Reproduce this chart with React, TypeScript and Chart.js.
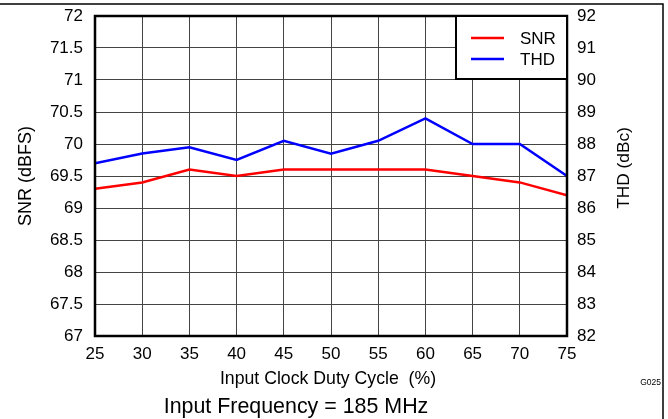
import React, { useEffect, useRef } from "react";
import { Chart, registerables } from "chart.js";

Chart.register(...registerables);

const dutyCycle = [25, 30, 35, 40, 45, 50, 55, 60, 65, 70, 75];
const snrValues = [69.3, 69.4, 69.6, 69.5, 69.6, 69.6, 69.6, 69.6, 69.5, 69.4, 69.2];
const thdValues = [87.4, 87.7, 87.9, 87.5, 88.1, 87.7, 88.1, 88.8, 88.0, 88.0, 87.0];
const seriesNames = ["SNR", "THD"];
const seriesColors = ["#ff0000", "#0000ff"];
const xTitle = "Input Clock Duty Cycle  (%)";
const yTitle = "SNR (dBFS)";
const y1Title = "THD (dBc)";
const footer = "Input Frequency = 185 MHz";
const figId = "G025";

const FONT = "'Liberation Sans', Arial, sans-serif";

const overlay = {
  id: "overlay",
  afterDatasetsDraw(chart: any) {
    const ctx = chart.ctx;
    const a = chart.chartArea;
    ctx.save();
    // plot border
    ctx.strokeStyle = "#000";
    ctx.lineWidth = 2.5;
    ctx.strokeRect(a.left, a.top, a.right - a.left, a.bottom - a.top);

    // legend box
    const lx = 456, ly = a.top, lw = a.right - 456, lh = 79 - a.top;
    ctx.fillStyle = "#fff";
    ctx.fillRect(lx, ly, lw, lh);
    ctx.lineWidth = 2;
    ctx.strokeRect(lx, ly, lw, lh);
    ctx.font = `17px ${FONT}`;
    ctx.textBaseline = "middle";
    ctx.textAlign = "left";
    chart.data.datasets.forEach((ds: any, i: number) => {
      const yy = 38 + i * 21;
      ctx.strokeStyle = ds.borderColor;
      ctx.lineWidth = 2.5;
      ctx.beginPath();
      ctx.moveTo(471, yy);
      ctx.lineTo(504, yy);
      ctx.stroke();
      ctx.fillStyle = "#000";
      ctx.fillText(ds.label, 520, yy + 1);
    });
    ctx.restore();
  },
  afterDraw(chart: any) {
    const ctx = chart.ctx;
    const a = chart.chartArea;
    ctx.save();
    ctx.fillStyle = "#000";
    ctx.textAlign = "center";
    ctx.textBaseline = "middle";
    ctx.font = `17.7px ${FONT}`;
    ctx.fillText(xTitle, (a.left + a.right) / 2 - 3, 379);
    ctx.font = `21.4px ${FONT}`;
    ctx.fillText(footer, 296, 407);
    ctx.font = `8.5px ${FONT}`;
    ctx.textAlign = "right";
    ctx.fillText(figId, 661, 383);

    ctx.textAlign = "center";
    ctx.save();
    ctx.font = `18px ${FONT}`;
    ctx.translate(26, 176);
    ctx.rotate(-Math.PI / 2);
    ctx.fillText(yTitle, 0, 0);
    ctx.restore();
    ctx.save();
    ctx.font = `17.3px ${FONT}`;
    ctx.translate(624, 168);
    ctx.rotate(-Math.PI / 2);
    ctx.fillText(y1Title, 0, 0);
    ctx.restore();

    // frame
    ctx.strokeStyle = "#000";
    ctx.lineWidth = 1.5;
    ctx.beginPath();
    ctx.moveTo(0, 4);
    ctx.lineTo(663, 4);
    ctx.lineTo(663, 419);
    ctx.stroke();
    ctx.restore();
  },
};

const fmt = (v: any) => String(Math.round(Number(v) * 10) / 10);

export default function App() {
  const ref = useRef<HTMLCanvasElement>(null);
  useEffect(() => {
    if (!ref.current) return;
    const tickFont = { family: FONT, size: 17 };
    const chart = new Chart(ref.current, {
      type: "line",
      data: {
        datasets: [
          {
            label: seriesNames[0],
            data: dutyCycle.map((x, i) => ({ x, y: snrValues[i] })),
            borderColor: seriesColors[0],
            backgroundColor: seriesColors[0],
            borderWidth: 2.5,
            pointRadius: 0,
            tension: 0,
            yAxisID: "y",
          },
          {
            label: seriesNames[1],
            data: dutyCycle.map((x, i) => ({ x, y: thdValues[i] })),
            borderColor: seriesColors[1],
            backgroundColor: seriesColors[1],
            borderWidth: 2.5,
            pointRadius: 0,
            tension: 0,
            yAxisID: "y1",
          },
        ],
      },
      options: {
        responsive: false,
        animation: false,
        layout: { padding: { top: 16, left: 0, right: 0, bottom: 0 } },
        plugins: { legend: { display: false }, tooltip: { enabled: false } },
        scales: {
          x: {
            type: "linear",
            min: 25,
            max: 75,
            ticks: { stepSize: 5, font: tickFont, color: "#000", padding: 8, maxRotation: 0, callback: fmt },
            grid: { color: "#444", lineWidth: 1, drawTicks: false },
            border: { display: false },
            afterFit: (s: any) => { s.height = 83; s.paddingLeft = 0; s.paddingRight = 0; },
          },
          y: {
            position: "left",
            min: 67,
            max: 72,
            ticks: { stepSize: 0.5, font: tickFont, color: "#000", padding: 12, callback: fmt },
            grid: { color: "#444", lineWidth: 1, drawTicks: false },
            border: { display: false },
            afterFit: (s: any) => { s.width = 95; s.paddingTop = 0; s.paddingBottom = 0; },
          },
          y1: {
            position: "right",
            min: 82,
            max: 92,
            ticks: { stepSize: 1, font: tickFont, color: "#000", padding: 10, callback: fmt },
            grid: { display: false, drawTicks: false },
            border: { display: false },
            afterFit: (s: any) => { s.width = 101; s.paddingTop = 0; s.paddingBottom = 0; },
          },
        },
      },
      plugins: [overlay],
    } as any);
    return () => chart.destroy();
  }, []);
  return (
    <div style={{ position: "absolute", left: 0, top: 0, width: 668, height: 419, background: "#fff" }}>
      <canvas ref={ref} width={668} height={419} style={{ display: "block" }} />
    </div>
  );
}
